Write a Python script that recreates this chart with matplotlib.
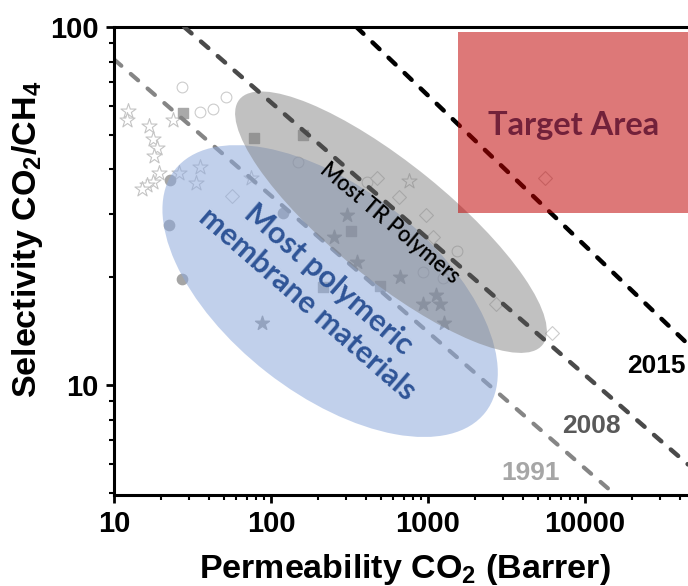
import numpy as np
import matplotlib.pyplot as plt
from matplotlib.patches import Ellipse
from matplotlib.transforms import ScaledTranslation
from matplotlib.ticker import LogLocator, NullFormatter

plt.rcParams['font.family'] = ['Liberation Sans', 'DejaVu Sans']
plt.rcParams['mathtext.fontset'] = 'custom'
plt.rcParams['mathtext.rm'] = 'Liberation Sans'
plt.rcParams['mathtext.bf'] = 'Liberation Sans:bold'
plt.rcParams['lines.scale_dashes'] = False

# upper bound lines (two points)
bound_1991_x = [10, 15500]
bound_1991_y = [81.2, 4.95]
bound_2008_x = [28, 45300]
bound_2008_y = [100, 6.0]
bound_2015_x = [350, 45300]
bound_2015_y = [100, 13.0]

# literature data points
open_star_x = [12.3, 12.1, 16.7, 17.7, 18.8, 18.0, 19.4, 17.7, 16.2, 15.1, 23.8, 25.9, 35.3, 33.3, 74.7, 757]
open_star_y = [58.2, 55.0, 52.9, 48.6, 45.9, 43.6, 39.1, 36.9, 36.2, 35.3, 55.0, 39.1, 40.6, 36.6, 37.8, 37.2]
open_circle_x = [27.1, 35.3, 42.8, 51.6, 149, 408, 1530, 929, 1250]
open_circle_y = [68.0, 57.9, 59.0, 63.7, 42.0, 36.9, 23.7, 20.7, 19.9]
filled_square_x = [27.5, 78.0, 160, 324, 214, 494]
filled_square_y = [57.5, 49.0, 49.9, 26.9, 18.8, 18.9]
filled_circle_x = [22.8, 22.4, 27.1, 119]
filled_circle_y = [37.4, 28.0, 19.8, 30.2]
filled_star_x = [305, 252, 353, 664, 1125, 929, 1191, 1265, 87.7]
filled_star_y = [29.8, 25.9, 22.1, 20.0, 17.9, 16.8, 16.8, 14.9, 14.9]
open_diamond_x = [56.5, 473, 653, 971, 1076, 2710, 6170, 5560]
open_diamond_y = [33.7, 37.8, 33.5, 29.8, 25.9, 16.8, 14.0, 37.8]

# regions
tr_center = (581, 28.5)
blue_center = (238, 18.3)
target_x = [1550, 100000]
target_lo, target_hi = 30.2, 96.8

fig = plt.figure(figsize=(6.88, 5.86), dpi=100)
ax = fig.add_axes([114/688, 1-495/586, 574/688, 468/586])
ax.set_xscale('log')
ax.set_yscale('log')
ax.set_xlim(10, 45300)
ax.set_ylim(4.93, 100)

# points
ax.scatter(open_star_x, open_star_y, marker='*', s=130, facecolor='white', edgecolor='#c4c4c4', lw=0.8, zorder=1)
ax.scatter(open_circle_x, open_circle_y, marker='o', s=60, facecolor='white', edgecolor='#cccccc', lw=0.8, zorder=1)
ax.scatter(open_diamond_x, open_diamond_y, marker='D', s=50, facecolor='white', edgecolor='#cccccc', lw=0.8, zorder=1)
ax.scatter(filled_square_x, filled_square_y, marker='s', s=55, color='#a9a9a9', zorder=1)
ax.scatter(filled_circle_x, filled_circle_y, marker='o', s=55, color='#a5a5a5', zorder=1)
ax.scatter(filled_star_x, filled_star_y, marker='*', s=110, color='#9c9c9c', zorder=1)

# bounds
dash = (0, (7, 9))
ax.plot(bound_1991_x, bound_1991_y, color='#858585', lw=3.0, ls=dash, dash_capstyle='round', zorder=2)


def blob(center, w, h, angle, **kw):
    tr = fig.dpi_scale_trans + ScaledTranslation(center[0], center[1], ax.transData)
    ax.add_patch(Ellipse((0, 0), w, h, angle=angle, transform=tr, **kw))


blob(blue_center, 3.94, 2.06, -38, color='#8faadc', alpha=0.55, lw=0, zorder=3)
blob(tr_center, 3.9, 1.16, -39, color='#7f7f7f', alpha=0.48, lw=0, zorder=4)

ax.plot(bound_2008_x, bound_2008_y, color='#4a4a4a', lw=3.2, ls=dash, dash_capstyle='round', zorder=5)
ax.plot(bound_2015_x, bound_2015_y, color='black', lw=3.2, ls=dash, dash_capstyle='round', zorder=5)

ax.fill_between(target_x, target_lo, target_hi, color='#c00000', alpha=0.53, lw=0, zorder=6)

# labels inside plot
ax.text(8510, 53.2, 'Target Area', family=['Lato', 'DejaVu Sans'], fontsize=23.5, fontweight='bold',
        color='#72213a', ha='center', va='center', zorder=7)
ax.text(573, 28.4, 'Most TR Polymers', family=['Lato', 'DejaVu Sans'], fontsize=15.5, fontweight='semibold',
        color='black', rotation=-40, rotation_mode='anchor', ha='center', va='center', zorder=7)
ax.text(199, 18.2, 'Most polymeric\nmembrane materials', family=['Lato', 'DejaVu Sans'], fontsize=22,
        fontweight='bold', color='#2f5597', rotation=-41, rotation_mode='anchor', ha='center', va='center',
        linespacing=1.2, zorder=7)
ax.text(18500, 11.3, '2015', fontsize=19, fontweight='bold', color='black', ha='left', va='center', zorder=7)
ax.text(7140, 7.67, '2008', fontsize=19, fontweight='bold', color='#595959', ha='left', va='center', zorder=7)
ax.text(2920, 5.68, '1991', fontsize=19, fontweight='bold', color='#a6a6a6', ha='left', va='center', zorder=7)

# axes styling
ax.set_xticks([10, 100, 1000, 10000])
ax.set_xticklabels(['10', '100', '1000', '10000'])
ax.set_yticks([10, 100])
ax.set_yticklabels(['10', '100'])
ax.xaxis.set_minor_locator(LogLocator(base=10, subs=np.arange(2, 10)))
ax.yaxis.set_minor_locator(LogLocator(base=10, subs=np.arange(2, 10)))
ax.xaxis.set_minor_formatter(NullFormatter())
ax.yaxis.set_minor_formatter(NullFormatter())
ax.tick_params(which='major', direction='out', length=6, width=2, labelsize=21, pad=5)
ax.tick_params(which='minor', direction='out', length=3.5, width=1.5)
ax.tick_params(axis='y', which='both', right=False)
for lab in ax.get_xticklabels() + ax.get_yticklabels():
    lab.set_fontweight('bold')
for side in ['left', 'bottom', 'top']:
    ax.spines[side].set_linewidth(2.2)
ax.spines['right'].set_visible(False)

ax.set_xlabel(r'Permeability CO$_\mathbf{2}$ (Barrer)', fontsize=24.5, fontweight='bold', va='center')
ax.xaxis.set_label_coords(0.507, -0.16)
ax.set_ylabel(r'Selectivity CO$_\mathbf{2}$/CH$_\mathbf{4}$', fontsize=24.5, fontweight='bold', va='center')
ax.yaxis.set_label_coords(-0.15, 0.547)

fig.savefig('out.png', dpi=100)
